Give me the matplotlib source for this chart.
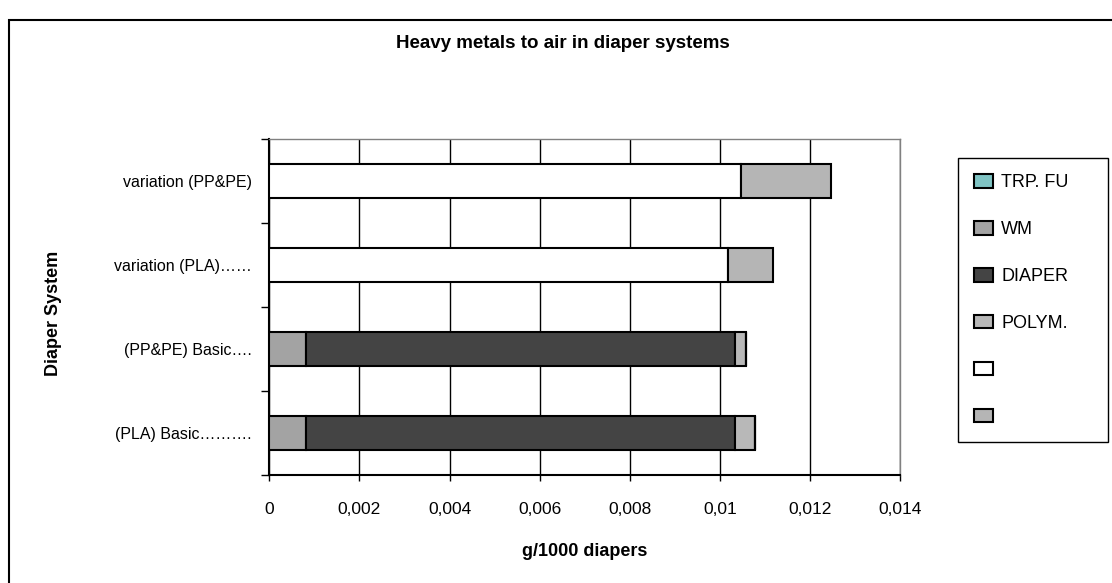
import numpy as np
import matplotlib
matplotlib.use("Agg")
import matplotlib.pyplot as plt
from matplotlib.patches import Patch, Rectangle

plt.rcParams['font.family'] = ['Liberation Sans', 'DejaVu Sans']

# categories, bottom to top
sistemi = ["(PLA) Basic……….", "(PP&PE) Basic….", "variation (PLA)……", "variation (PP&PE)"]

# stacked components (g/1000 diapers)
trp_fu = [0.0, 0.0, 0.0, 0.0]
wm = [0.00082, 0.00082, 0.0, 0.0]
diaper = [0.00951, 0.00951, 0.0, 0.0]
polym = [0.00045, 0.00026, 0.0, 0.0]
vuoto_bianco = [0.0, 0.0, 0.01019, 0.01048]
vuoto_grigio = [0.0, 0.0, 0.00098, 0.00198]

serie = [
    ("TRP. FU", trp_fu, "#80c4c4"),
    ("WM", wm, "#a3a3a3"),
    ("DIAPER", diaper, "#444444"),
    ("POLYM.", polym, "#b8b8b8"),
    (" ", vuoto_bianco, "#ffffff"),
    ("  ", vuoto_grigio, "#b5b5b5"),
]

W, H = 1112, 583
fig = plt.figure(figsize=(W / 100, H / 100), dpi=100)
ax = fig.add_axes([269.3 / W, 1 - 475.3 / H, (900 - 269.3) / W, 336 / H])

y = np.arange(len(sistemi))
base = np.zeros(len(sistemi))
handles = []
for nome, valori, colore in serie:
    valori = np.array(valori)
    ax.barh(y, valori, left=base, height=0.405, color=colore,
            edgecolor="black", linewidth=1.5, zorder=3)
    base = base + valori
    handles.append(Patch(facecolor=colore, edgecolor="black", linewidth=1.5, label=nome))

ax.set_xlim(0, 0.014)
ax.set_ylim(-0.5, len(sistemi) - 0.5)
ax.set_xticks(np.arange(0, 0.0141, 0.002))
ax.set_xticklabels(["0", "0,002", "0,004", "0,006", "0,008", "0,01", "0,012", "0,014"])
ax.tick_params(axis="x", direction="out", length=4, width=1, pad=15, labelsize=12.5)

ax.set_yticks(np.arange(-0.5, len(sistemi), 1.0))
ax.set_yticklabels([])
ax.set_yticks(y, minor=True)
ax.set_yticklabels(sistemi, minor=True)
ax.tick_params(axis="y", which="major", direction="out", length=5.5, width=1)
ax.tick_params(axis="y", which="minor", length=0, pad=12.5, labelsize=11.5)

ax.grid(axis="x", color="black", linewidth=1)
ax.set_axisbelow(True)
for lato in ["left", "bottom"]:
    ax.spines[lato].set_linewidth(1.5)
    ax.spines[lato].set_color("black")
for lato in ["top", "right"]:
    ax.spines[lato].set_linewidth(1)
    ax.spines[lato].set_color("#808080")

fig.text(563 / W, 1 - 43 / H, "Heavy metals to air in diaper systems",
         ha="center", va="center", fontsize=13.5, fontweight="bold")
fig.text(53 / W, 1 - 313 / H, "Diaper System", rotation=90,
         ha="center", va="center", fontsize=13, fontweight="bold")
fig.text(585 / W, 1 - 551 / H, "g/1000 diapers",
         ha="center", va="center", fontsize=13, fontweight="bold")

leg = fig.legend(handles=handles, loc="upper left",
                 bbox_to_anchor=(958 / W, 1 - 445 / H, 150 / W, (445 - 158) / H),
                 mode="expand", borderaxespad=0, fontsize=13,
                 labelspacing=1.66, handlelength=1.05, handleheight=0.75,
                 handletextpad=0.45, borderpad=0.9, fancybox=False,
                 framealpha=1, edgecolor="black")
leg.get_frame().set_linewidth(1)

# cornice esterna
fig.add_artist(Rectangle((9 / W, -0.1), 1.2, 1.1 - 20 / H, transform=fig.transFigure,
                         fill=False, edgecolor="black", linewidth=1.5))

fig.savefig("out.png", dpi=100)
